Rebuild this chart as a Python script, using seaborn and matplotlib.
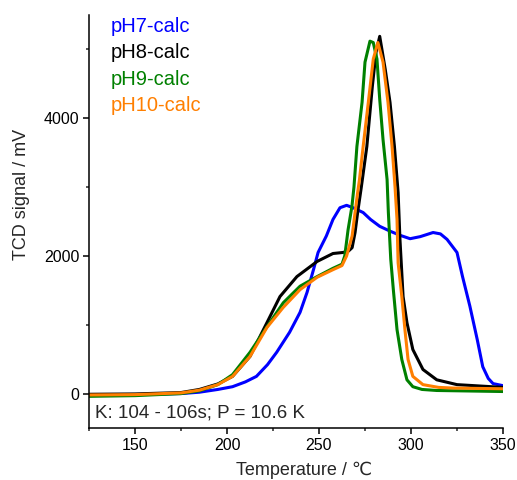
import numpy as np
import pandas as pd
import seaborn as sns
import matplotlib
matplotlib.use("Agg")
import matplotlib.pyplot as plt
from matplotlib.ticker import MultipleLocator

# ---- data ----
T7 = [125, 150, 175, 185, 195, 203, 210, 216, 222, 227, 234, 239.7, 243.5, 247, 249.5, 254, 257.6, 261.4,
      265, 268.5, 274, 278, 283, 288.6, 294, 299.5, 305, 312, 316, 319.6, 325, 328, 332, 336, 339, 342, 344.6, 350]
V7 = [-20, -15, 0, 20, 60, 100, 170, 250, 420, 600, 890, 1180, 1470, 1800, 2050, 2290, 2530, 2700,
      2735, 2700, 2630, 2530, 2430, 2360, 2300, 2250, 2280, 2340, 2320, 2240, 2050, 1700, 1270, 785, 390, 220, 145, 115]

T8 = [125, 150, 175, 185, 195, 203, 212.5, 221.7, 228.8, 238, 249, 257.6, 263, 266, 268, 269.6, 271, 273,
      276, 279, 281, 283, 286, 288.6, 291, 293, 294, 295.7, 297.8, 301, 306.5, 314, 325, 350]
V8 = [-10, -5, 15, 60, 140, 250, 540, 1030, 1410, 1700, 1920, 2035, 2050, 2070, 2120, 2340, 2630, 3000,
      3590, 4465, 4960, 5190, 4710, 4230, 3590, 2920, 2240, 1410, 1030, 640, 350, 200, 130, 90]

T9 = [125, 150, 175, 185, 195, 203, 212.5, 221.7, 230.6, 239.7, 249, 257.6, 262.5, 264, 265.8, 267.9, 269,
      270.6, 273.4, 275, 277.7, 279.5, 281.5, 283, 284.8, 287, 287.7, 289, 290.4, 292.4, 295, 297.8, 301, 306, 314, 350]
V9 = [-40, -30, 0, 40, 130, 275, 600, 970, 1320, 1560, 1700, 1820, 1880, 2000, 2380, 2720, 3000,
      3590, 4230, 4815, 5120, 5100, 4860, 4275, 3690, 3110, 2630, 1950, 1510, 930, 495, 200, 100, 60, 45, 30]

T10 = [125, 150, 175, 185, 195, 203, 212.5, 221.7, 230.5, 239.7, 249, 257.6, 262.5, 265, 268, 269.6, 271, 272,
       274, 276.8, 279.5, 282, 284.8, 287.5, 289.7, 291.3, 292.4, 293, 295, 296.7, 298.4, 301, 306.5, 315, 323, 350]
V10 = [-20, -15, 10, 50, 130, 250, 540, 960, 1250, 1510, 1690, 1800, 1860, 2000, 2290, 2630, 2920, 3110,
       3590, 4230, 4860, 5100, 4815, 4230, 3590, 3010, 2530, 1900, 1410, 930, 495, 250, 130, 90, 80, 70]

series_names = ["pH7-calc", "pH8-calc", "pH9-calc", "pH10-calc"]
series_colors = ["#0000FF", "#000000", "#008000", "#FF7F00"]
annotation = "K: 104 - 106s; P = 10.6 K"
xlabel = "Temperature / \u2103"
ylabel = "TCD signal / mV"

frames = []
for name, T, V in zip(series_names, [T7, T8, T9, T10], [V7, V8, V9, V10]):
    frames.append(pd.DataFrame({"T": T, "V": V, "series": name}))
df = pd.concat(frames, ignore_index=True)

sns.set_style("ticks")
plt.rcParams["font.family"] = ["Liberation Sans", "DejaVu Sans"]

fig = plt.figure(figsize=(5.17, 4.80), dpi=100)
ax = fig.add_axes([89/517, 1-428/480, (503-89)/517, (428-15)/480])

sns.lineplot(data=df, x="T", y="V", hue="series", hue_order=series_names,
             palette=dict(zip(series_names, series_colors)), estimator=None,
             sort=False, legend=False, lw=2.2, ax=ax)

ax.set_xlim(125, 350)
ax.set_ylim(-500, 5500)
ax.xaxis.set_major_locator(MultipleLocator(50))
ax.xaxis.set_minor_locator(MultipleLocator(25))
ax.yaxis.set_major_locator(MultipleLocator(2000))
ax.yaxis.set_minor_locator(MultipleLocator(1000))
sns.despine(ax=ax)
for s in ["left", "bottom"]:
    ax.spines[s].set_linewidth(1.1)
    ax.spines[s].set_color("black")
ax.tick_params(which="major", direction="out", length=4, width=1.1, labelsize=11.5, colors="black", pad=3)
ax.tick_params(which="minor", direction="out", length=2.5, width=1.1)

ax.set_xlabel("")
ax.set_ylabel("")
fig.text(304/517, 1-475/480, xlabel, fontsize=13, ha="center", va="baseline")
fig.text(22/517, 1-194/480, ylabel, fontsize=13, ha="center", va="center", rotation=90)

ypos = [0.971, 0.908, 0.845, 0.782]
for name, c, yp in zip(series_names, series_colors, ypos):
    ax.text(0.053, yp, name, color=c, fontsize=14.5, transform=ax.transAxes, va="center", ha="left")

ax.text(0.0145, 0.036, annotation, fontsize=13.5, transform=ax.transAxes, va="center", ha="left")

fig.savefig("out.png", dpi=100)
